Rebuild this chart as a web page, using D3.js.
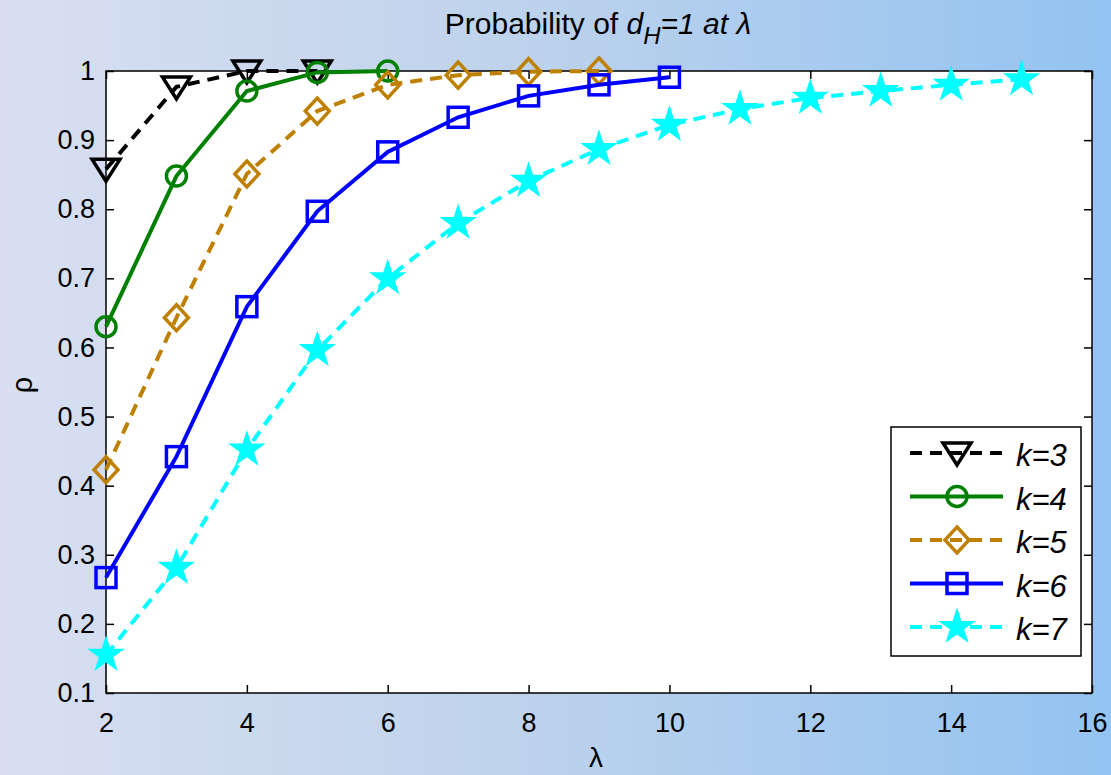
<!DOCTYPE html>
<html>
<head>
<meta charset="utf-8">
<script src="https://cdn.jsdelivr.net/npm/d3@7"></script>
<style>
  body { margin: 0; }
  svg { display: block; font-family: "Liberation Sans", Arial, sans-serif; }
</style>
</head>
<body>
<script>
// data
var lambdas = [2, 3, 4, 5, 6, 7, 8, 9, 10, 11, 12, 13, 14, 15];
var k3 = [0.858, 0.977, 1.0, 1.0];
var k4 = [0.630, 0.848, 0.971, 0.998, 1.0];
var k5 = [0.423, 0.643, 0.851, 0.942, 0.980, 0.994, 0.999, 1.0];
var k6 = [0.267, 0.442, 0.659, 0.797, 0.883, 0.933, 0.964, 0.980, 0.991];
var k7 = [0.155, 0.281, 0.452, 0.596, 0.700, 0.780, 0.841, 0.887, 0.922, 0.945, 0.961, 0.971, 0.980, 0.988];
var seriesNames = ["k=3", "k=4", "k=5", "k=6", "k=7"];
var xTicks = [2, 4, 6, 8, 10, 12, 14, 16];
var yTicks = [0.1, 0.2, 0.3, 0.4, 0.5, 0.6, 0.7, 0.8, 0.9, 1];

// sizes (plot box)
var w = 1111, h = 775;
var plotLeft = 106, plotRight = 1092, plotTop = 71, plotBottom = 693;

var series = [
  { name: seriesNames[0], values: k3, color: "#000000", dash: "12,8", marker: "tri" },
  { name: seriesNames[1], values: k4, color: "#008000", dash: null, marker: "circle" },
  { name: seriesNames[2], values: k5, color: "#bf8000", dash: "12,8", marker: "diamond" },
  { name: seriesNames[3], values: k6, color: "#0000ff", dash: null, marker: "square" },
  { name: seriesNames[4], values: k7, color: "#00ffff", dash: "12,8", marker: "star" }
];

var svg = d3.select("body").append("svg")
  .attr("width", w)
  .attr("height", h);

// background gradient
var defs = svg.append("defs");
var grad = defs.append("linearGradient").attr("id", "bg")
  .attr("x1", "0").attr("y1", "0").attr("x2", "1").attr("y2", "0");
grad.append("stop").attr("offset", "0").attr("stop-color", "#d9dff1");
grad.append("stop").attr("offset", "0.45").attr("stop-color", "#bfd3ec");
grad.append("stop").attr("offset", "1").attr("stop-color", "#93c3f1");

svg.append("rect")
  .attr("width", w).attr("height", h)
  .attr("fill", "url(#bg)");

// plot area
svg.append("rect")
  .attr("x", plotLeft).attr("y", plotTop)
  .attr("width", plotRight - plotLeft).attr("height", plotBottom - plotTop)
  .attr("fill", "white");

var xScale = d3.scaleLinear().domain([2, 16]).range([plotLeft, plotRight]);
var yScale = d3.scaleLinear().domain([0.1, 1]).range([plotBottom, plotTop]);

// axes with inward ticks
var xAxis = d3.axisBottom(xScale).tickValues(xTicks).tickSize(-8).tickPadding(20).tickFormat(d3.format("d"));
var yAxis = d3.axisLeft(yScale).tickValues(yTicks).tickSize(-8).tickPadding(11)
  .tickFormat(function(d) { return d == 1 ? "1" : d3.format(".1f")(d); });

var gx = svg.append("g").attr("transform", "translate(0," + plotBottom + ")").call(xAxis);
var gy = svg.append("g").attr("transform", "translate(" + plotLeft + ",0)").call(yAxis);
var gx2 = svg.append("g").attr("transform", "translate(0," + plotTop + ")")
  .call(d3.axisTop(xScale).tickValues(xTicks).tickSize(-8).tickFormat(""));
var gy2 = svg.append("g").attr("transform", "translate(" + plotRight + ",0)")
  .call(d3.axisRight(yScale).tickValues(yTicks).tickSize(-8).tickFormat(""));

[gx, gy, gx2, gy2].forEach(function(g) {
  g.select(".domain").remove();
  g.selectAll("line").attr("stroke", "#000").attr("stroke-width", 1.5);
  g.selectAll("text").attr("fill", "#000").style("font-size", "27px")
    .style("font-family", "'Liberation Sans', Arial, sans-serif");
});

svg.append("rect")
  .attr("x", plotLeft).attr("y", plotTop)
  .attr("width", plotRight - plotLeft).attr("height", plotBottom - plotTop)
  .attr("fill", "none").attr("stroke", "#000").attr("stroke-width", 1.5);

// marker drawing
function drawMarker(g, type, x, y, color) {
  if (type == "tri") {
    g.append("path")
      .attr("d", "M" + (x - 14) + "," + (y - 10) + " L" + (x + 14) + "," + (y - 10) + " L" + x + "," + (y + 12) + " Z")
      .attr("fill", "none").attr("stroke", color).attr("stroke-width", 3.5);
  } else if (type == "circle") {
    g.append("circle").attr("cx", x).attr("cy", y).attr("r", 10)
      .attr("fill", "none").attr("stroke", color).attr("stroke-width", 3.5);
  } else if (type == "diamond") {
    g.append("path")
      .attr("d", "M" + x + "," + (y - 13) + " L" + (x + 12) + "," + y + " L" + x + "," + (y + 13) + " L" + (x - 12) + "," + y + " Z")
      .attr("fill", "none").attr("stroke", color).attr("stroke-width", 3.5);
  } else if (type == "square") {
    g.append("rect").attr("x", x - 10).attr("y", y - 10).attr("width", 20).attr("height", 20)
      .attr("fill", "none").attr("stroke", color).attr("stroke-width", 3.5);
  } else if (type == "star") {
    g.append("path")
      .attr("d", d3.symbol().type(d3.symbolStar).size(440)())
      .attr("transform", "translate(" + x + "," + y + ")")
      .attr("fill", color);
  }
}

var line = d3.line()
  .x(function(d, i) { return xScale(lambdas[i]); })
  .y(function(d) { return yScale(d); });

series.forEach(function(s) {
  var g = svg.append("g");
  g.append("path")
    .attr("d", line(s.values))
    .attr("fill", "none")
    .attr("stroke", s.color)
    .attr("stroke-width", 4)
    .attr("stroke-dasharray", s.dash);
  s.values.forEach(function(v, i) {
    drawMarker(g, s.marker, xScale(lambdas[i]), yScale(v), s.color);
  });
});

// legend
var legend = svg.append("g");
legend.append("rect")
  .attr("x", 891).attr("y", 427)
  .attr("width", 190).attr("height", 229)
  .attr("fill", "white").attr("stroke", "#000").attr("stroke-width", 1.5);

series.forEach(function(s, n) {
  var ly = 453 + n * 43.5;
  legend.append("line")
    .attr("x1", 910).attr("x2", 1003)
    .attr("y1", ly).attr("y2", ly)
    .attr("stroke", s.color).attr("stroke-width", 4)
    .attr("stroke-dasharray", s.dash);
  drawMarker(legend, s.marker, 957, ly, s.color);
  legend.append("text")
    .attr("x", 1016).attr("y", ly + 13)
    .style("font-size", "31px")
    .style("font-style", "italic")
    .attr("fill", "#000")
    .text(s.name);
});

// title
var title = svg.append("text")
  .attr("x", 598).attr("y", 34)
  .attr("text-anchor", "middle")
  .style("font-size", "30px")
  .attr("fill", "#000");
title.append("tspan").text("Probability of ");
title.append("tspan").style("font-style", "italic").text("d");
title.append("tspan").style("font-style", "italic").style("font-size", "24px").attr("dy", 10).text("H");
title.append("tspan").style("font-style", "italic").attr("dy", -10).text("=1 at λ");

// axis labels
svg.append("text")
  .attr("x", 596).attr("y", 767)
  .attr("text-anchor", "middle")
  .style("font-size", "28px")
  .attr("fill", "#000")
  .text("λ");

svg.append("text")
  .attr("transform", "translate(32,385) rotate(-90)")
  .attr("text-anchor", "middle")
  .style("font-size", "29px")
  .attr("fill", "#000")
  .text("ρ");
</script>
</body>
</html>
